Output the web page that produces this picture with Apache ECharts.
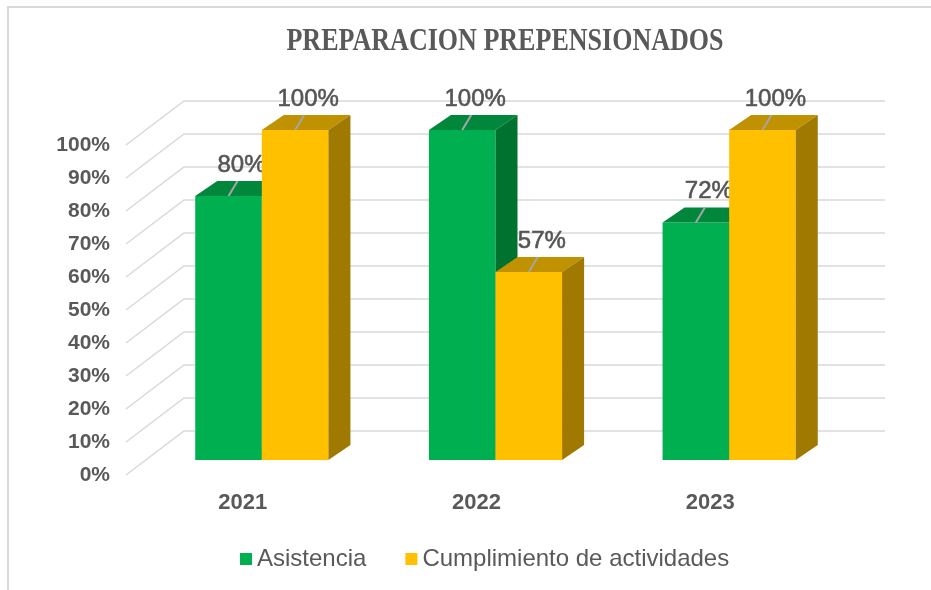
<!DOCTYPE html>
<html>
<head>
<meta charset="utf-8">
<script src="https://cdn.jsdelivr.net/npm/echarts@6/dist/echarts.min.js"></script>
<style>
  html, body { margin: 0; padding: 0; background: #fff; }
  #chart { width: 931px; height: 590px; }
</style>
</head>
<body>
<div id="chart"></div>
<script>
// data
const years = ['2021', '2022', '2023']
const asistencia = [0.80, 1.00, 0.72]
const cumplimiento = [1.00, 0.57, 1.00]
const yTicks = [0, 0.1, 0.2, 0.3, 0.4, 0.5, 0.6, 0.7, 0.8, 0.9, 1.0]
const seriesNames = ['Asistencia', 'Cumplimiento de actividades']

// 3d look
const FLOOR = [58, -44]   // full depth of the floor
const FRONT = [19, -15]   // bars start a third back
const BAR_D = [22, -15]   // bar depth
const colors = [
  { front: '#00B050', top: '#00873C', side: '#00722F' },
  { front: '#FFC000', top: '#C09100', side: '#A07A00' }
]
const textColor = '#595959'
const gridColor = '#D9D9D9'

const chart = echarts.init(document.getElementById('chart'))

// pared del fondo + lineas en perspectiva
function renderGrid(params, api) {
  const v = api.value(0)
  const band = api.size([1, 0])[0]
  const p = api.coord([0, v])
  const left = p[0] - band / 2
  const right = left + band * years.length
  return {
    type: 'polyline',
    shape: {
      points: [
        [left, p[1]],
        [left + FLOOR[0], p[1] + FLOOR[1]],
        [right + FLOOR[0], p[1] + FLOOR[1]]
      ]
    },
    style: { stroke: gridColor, lineWidth: 1.5, fill: null },
    silent: true
  }
}

// barra 3d
function makeBar(idx) {
  return function (params, api) {
    const i = api.value(0)
    const v = api.value(1)
    const band = api.size([1, 0])[0]
    const w = band * 0.285
    const base = api.coord([i, 0])
    const top = api.coord([i, v])
    const x0 = base[0] - w + idx * w + FRONT[0]
    const yb = base[1] + FRONT[1]
    const yt = top[1] + FRONT[1]
    const c = colors[idx]
    const cx = x0 + w / 2
    return {
      type: 'group',
      children: [
        {
          type: 'rect',
          shape: { x: x0, y: yt, width: w, height: yb - yt },
          style: { fill: c.front }
        },
        {
          type: 'polygon',
          shape: { points: [[x0, yt], [x0 + w, yt], [x0 + w + BAR_D[0], yt + BAR_D[1]], [x0 + BAR_D[0], yt + BAR_D[1]]] },
          style: { fill: c.top }
        },
        {
          type: 'polygon',
          shape: { points: [[x0 + w, yt], [x0 + w + BAR_D[0], yt + BAR_D[1]], [x0 + w + BAR_D[0], yb + BAR_D[1]], [x0 + w, yb]] },
          style: { fill: c.side }
        },
        {
          type: 'line',
          shape: { x1: cx, y1: yt, x2: cx + 9, y2: yt - 15 },
          style: { stroke: '#A6A6A6', lineWidth: 2 }
        },
        {
          type: 'text',
          x: cx + 13,
          y: yt - 31,
          style: {
            text: Math.round(v * 100) + '%',
            fill: '#555555',
            font: '24px Arial, "Liberation Sans", sans-serif',
            textAlign: 'center',
            textVerticalAlign: 'middle',
            stroke: '#555555',
            lineWidth: 0.6
          }
        }
      ]
    }
  }
}

const option = {
  backgroundColor: '#fff',
  animation: false,
  graphic: [
    {
      type: 'rect',
      shape: { x: 8, y: 7, width: 940, height: 600 },
      style: { fill: null, stroke: '#D9D9D9', lineWidth: 2 },
      z: 0
    },
    {
      type: 'text',
      x: 505,
      y: 42,
      scaleX: 0.84,
      style: {
        text: 'PREPARACION PREPENSIONADOS',
        fill: textColor,
        font: 'bold 31px "Liberation Serif", "DejaVu Serif", serif',
        textAlign: 'center',
        textVerticalAlign: 'middle'
      }
    }
  ],
  grid: {
    left: 126,
    right: 104,
    top: 145,
    bottom: 115
  },
  legend: {
    left: 235,
    top: 542,
    icon: 'rect',
    itemWidth: 12,
    itemHeight: 12,
    itemGap: 39,
    textStyle: { color: textColor, fontSize: 24, fontFamily: 'Arial, "Liberation Sans", sans-serif' },
    data: seriesNames
  },
  xAxis: {
    type: 'category',
    data: years,
    axisLine: { show: false },
    axisTick: { show: false },
    splitLine: { show: false },
    axisLabel: {
      color: textColor,
      fontSize: 22,
      fontWeight: 'bold',
      fontFamily: 'Arial, "Liberation Sans", sans-serif',
      margin: 17
    }
  },
  yAxis: {
    type: 'value',
    min: 0,
    max: 1,
    interval: 0.1,
    axisLine: { show: false },
    axisTick: { show: false },
    splitLine: { show: false },
    axisLabel: {
      color: textColor,
      fontSize: 21,
      fontWeight: 'bold',
      fontFamily: 'Arial, "Liberation Sans", sans-serif',
      margin: 16,
      formatter: v => Math.round(v * 100) + '%'
    }
  },
  series: [
    {
      type: 'custom',
      name: 'grid',
      renderItem: renderGrid,
      data: yTicks.map(v => [v]),
      encode: { y: 0 },
      z: 1,
      silent: true
    },
    {
      type: 'custom',
      name: seriesNames[0],
      renderItem: makeBar(0),
      itemStyle: { color: colors[0].front },
      data: asistencia.map((v, i) => [i, v]),
      encode: { x: 0, y: 1 },
      z: 2
    },
    {
      type: 'custom',
      name: seriesNames[1],
      renderItem: makeBar(1),
      itemStyle: { color: colors[1].front },
      data: cumplimiento.map((v, i) => [i, v]),
      encode: { x: 0, y: 1 },
      z: 2
    }
  ]
}

chart.setOption(option)
</script>
</body>
</html>
